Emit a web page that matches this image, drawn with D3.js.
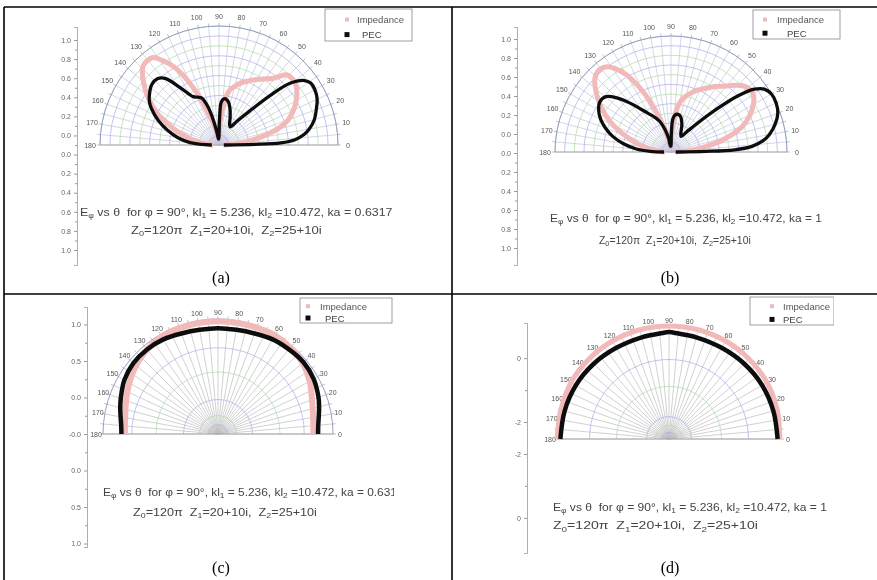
<!DOCTYPE html>
<html>
<head>
<meta charset="utf-8">
<script src="https://cdn.jsdelivr.net/npm/d3@7"></script>
<style>
  body { margin: 0; background: #fff; }
  svg { display: block; }
  text { white-space: pre; }
</style>
</head>
<body>
<svg id="fig" width="877" height="580"></svg>
<script>
// ---------------- data ----------------
const angularTicks = d3.range(0, 181, 10);
const legendLabels = ["Impedance", "PEC"];

// (a) ka = 0.6317
const pecAngA = [0, 1, 2, 4, 7, 10, 15, 20, 25, 30, 34, 37, 41, 44, 48, 53, 58, 62, 68, 74, 79, 84, 87, 89, 91, 95, 99, 103, 106, 110, 114, 118, 124, 129, 133, 138, 143, 148, 152, 158, 164, 170, 175, 178, 180];
const pecRA   = [0.04, 0.3, 0.52, 0.64, 0.72, 0.77, 0.83, 0.87, 0.91, 0.93, 0.93, 0.9, 0.79, 0.6, 0.38, 0.25, 0.18, 0.19, 0.25, 0.33, 0.38, 0.39, 0.36, 0.2, 0.06, 0.05, 0.1, 0.22, 0.33, 0.42, 0.44, 0.46, 0.58, 0.72, 0.76, 0.76, 0.73, 0.69, 0.64, 0.55, 0.45, 0.35, 0.25, 0.15, 0.06];
const impAngA = [0, 3, 6, 9, 12, 16, 20, 25, 30, 34, 38, 42, 46, 51, 56, 62, 67, 71, 75, 79, 82, 86, 90, 95, 100, 104, 108, 112, 116, 120, 124, 127, 131, 134, 137, 140, 145, 150, 153, 158, 162, 166, 170, 175, 180];
const impRA   = [0.04, 0.1, 0.2, 0.3, 0.4, 0.53, 0.62, 0.69, 0.75, 0.79, 0.82, 0.83, 0.82, 0.72, 0.67, 0.62, 0.58, 0.55, 0.51, 0.47, 0.4, 0.25, 0.1, 0.06, 0.1, 0.18, 0.25, 0.43, 0.61, 0.76, 0.86, 0.92, 0.93, 0.92, 0.88, 0.83, 0.74, 0.64, 0.58, 0.45, 0.37, 0.28, 0.2, 0.12, 0.05];

// (b) ka = 1
const pecAngB = [0, 1, 2, 4, 7, 10, 15, 20, 25, 30, 34, 37, 40, 43, 47, 52, 57, 62, 68, 74, 79, 84, 87, 89, 91, 95, 100, 105, 110, 115, 120, 125, 130, 135, 140, 145, 150, 155, 160, 165, 170, 175, 178, 180];
const pecRB   = [0.04, 0.3, 0.55, 0.7, 0.8, 0.86, 0.93, 0.98, 1.0, 1.0, 0.97, 0.9, 0.75, 0.55, 0.35, 0.22, 0.16, 0.18, 0.25, 0.31, 0.33, 0.32, 0.28, 0.15, 0.05, 0.05, 0.12, 0.2, 0.28, 0.33, 0.38, 0.45, 0.55, 0.66, 0.74, 0.75, 0.72, 0.67, 0.6, 0.52, 0.42, 0.3, 0.18, 0.06];
const impAngB = [0, 3, 6, 9, 12, 16, 20, 25, 30, 34, 38, 42, 46, 51, 56, 62, 67, 71, 75, 79, 82, 86, 90, 95, 100, 104, 108, 112, 116, 120, 124, 127, 131, 134, 137, 140, 145, 150, 153, 158, 162, 166, 170, 175, 180];
const impRB   = [0.04, 0.1, 0.2, 0.3, 0.42, 0.55, 0.66, 0.75, 0.82, 0.86, 0.87, 0.85, 0.8, 0.73, 0.68, 0.62, 0.58, 0.54, 0.5, 0.45, 0.38, 0.24, 0.1, 0.06, 0.1, 0.18, 0.28, 0.45, 0.62, 0.77, 0.87, 0.92, 0.94, 0.93, 0.9, 0.85, 0.76, 0.66, 0.6, 0.48, 0.38, 0.3, 0.21, 0.12, 0.05];

// (c) ka = 0.6317, half-space pattern
const pecAngC = [0, 5, 10, 15, 20, 30, 40, 50, 60, 70, 80, 90, 100, 110, 120, 130, 140, 150, 160, 165, 170, 175, 180];
const pecRC   = [0.87, 0.875, 0.89, 0.91, 0.93, 0.96, 0.97, 0.96, 0.95, 0.93, 0.92, 0.92, 0.92, 0.93, 0.95, 0.96, 0.96, 0.94, 0.9, 0.88, 0.86, 0.845, 0.84];
const impAngC = [0, 10, 20, 30, 40, 50, 60, 70, 80, 90, 100, 110, 120, 130, 140, 150, 160, 170, 180];
const impRC   = [0.83, 0.84, 0.87, 0.92, 0.96, 0.98, 0.99, 0.985, 0.98, 0.98, 0.98, 0.98, 0.98, 0.96, 0.93, 0.89, 0.85, 0.82, 0.81];

// (d) ka = 1, half-space pattern
const pecAngD = [0, 15, 30, 45, 60, 75, 85, 90, 95, 105, 120, 135, 150, 165, 180];
const pecRD   = [0.97, 0.965, 0.96, 0.95, 0.94, 0.94, 0.945, 0.955, 0.945, 0.94, 0.94, 0.95, 0.96, 0.965, 0.97];
const impAngD = [0, 15, 30, 45, 60, 75, 90, 105, 120, 135, 150, 165, 180];
const impRD   = [0.99, 1.0, 1.01, 1.01, 1.01, 1.01, 1.01, 1.01, 1.01, 1.01, 1.01, 1.0, 1.0];

// left-axis tick labels
const yLabelsAB = ["1.0", "0.8", "0.6", "0.4", "0.2", "0.0", "0.0", "0.2", "0.4", "0.6", "0.8", "1.0"];
const yLabelsC  = ["1.0", "0.5", "0.0", "-0.0", "0.0", "0.5", "1.0"];
const yLabelsD  = ["0", "-2", "-2", "0"];
const yValsD    = [2.5, 0.5, -0.5, -2.5];
const yMinorD   = [1.5, -1.5];

// radial grid rings
const ringsAB = d3.range(1, 13).map(i => i / 12);
const ringsC  = [0.08, 0.16, 0.3, 0.54, 0.75];
const ringsD  = [0.06, 0.12, 0.2, 0.47, 0.71];

// annotation pieces: [text, isSubscript]
const noteL1 = ka => [["E"], ["φ", 1], [" vs θ  for φ = 90°, kl"], ["1", 1], [" = 5.236, kl"], ["2", 1], [" =10.472, ka = " + ka]];
const noteL2 = [["Z"], ["0", 1], ["=120π  Z"], ["1", 1], ["=20+10i,  Z"], ["2", 1], ["=25+10i"]];

// ---------------- drawing ----------------
const svg = d3.select("#fig");
const defs = svg.append("defs");
defs.append("filter").attr("id", "soft").attr("x", "-5%").attr("y", "-5%").attr("width", "110%").attr("height", "110%")
  .append("feGaussianBlur").attr("stdDeviation", 0.75);

const zip = (a, b) => a.map((v, i) => [v, b[i]]);
const FONT = "Liberation Sans, Arial, sans-serif";

const panels = [
  { id: "a", cell: [4, 7, 452, 294], clipRight: 413, cx: 219, cy: 145, R: 119, labR: 10,
    rings: ringsAB, dense: true,
    pec: zip(pecAngA, pecRA), imp: zip(impAngA, impRA), pecW: 3.3, impW: 5,
    axis: { x: 77, top: 27, bottom: 265, labels: yLabelsAB, first: 40, last: 250 },
    legend: { x: 325, y: 9, w: 87, h: 32, mx: 22, tx1: 32, tx2: 37 },
    notes: [{ parts: noteL1("0.6317"), x: 80, y: 216, w: 313 }, { parts: noteL2, x: 131, y: 234, w: 191 }],
    caption: "(a)", capX: 221, capY: 283 },
  { id: "b", cell: [452, 7, 877, 294], clipRight: 841, cx: 671, cy: 152, R: 116, labR: 10,
    rings: ringsAB, dense: true,
    pec: zip(pecAngB, pecRB), imp: zip(impAngB, impRB), pecW: 3.3, impW: 5,
    axis: { x: 517, top: 27, bottom: 265, labels: yLabelsAB, first: 39, last: 248 },
    legend: { x: 753, y: 10, w: 87, h: 29, mx: 12, tx1: 24, tx2: 34 },
    notes: [{ parts: noteL1("1"), x: 550, y: 222, w: 272 }, { parts: noteL2, x: 599, y: 244, w: 152 }],
    caption: "(b)", capX: 670, capY: 283 },
  { id: "c", cell: [4, 294, 452, 580], clipRight: 394, cx: 218, cy: 434, R: 115, labR: 7,
    rings: ringsC, dense: false,
    pec: zip(pecAngC, pecRC), imp: zip(impAngC, impRC), pecW: 4.5, impW: 6,
    axis: { x: 87, top: 307, bottom: 547, labels: yLabelsC, first: 324.5, last: 543.5 },
    legend: { x: 300, y: 298, w: 92, h: 25, mx: 8, tx1: 20, tx2: 25 },
    notes: [{ parts: noteL1("0.6317"), x: 103, y: 496, w: 301 }, { parts: noteL2, x: 133, y: 516, w: 184 }],
    caption: "(c)", capX: 221, capY: 573 },
  { id: "d", cell: [452, 294, 877, 580], clipRight: 834, cx: 669, cy: 439, R: 112, labR: 7,
    rings: ringsD, dense: false,
    pec: zip(pecAngD, pecRD), imp: zip(impAngD, impRD), pecW: 4.5, impW: 5,
    axis: { x: 527, top: 323, bottom: 553, linear: true },
    legend: { x: 750, y: 297, w: 84, h: 28, mx: 22, tx1: 33, tx2: 33 },
    notes: [{ parts: noteL1("1"), x: 553, y: 511, w: 274 }, { parts: noteL2, x: 553, y: 529, w: 205 }],
    caption: "(d)", capX: 670, capY: 573 }
];

function drawPanel(p) {
  defs.append("clipPath").attr("id", "clip-" + p.id)
    .append("rect").attr("x", p.cell[0] + 1).attr("y", p.cell[1] + 1)
    .attr("width", p.clipRight - p.cell[0] - 1).attr("height", p.cell[3] - p.cell[1] - 1);

  const outer = svg.append("g").attr("clip-path", `url(#clip-${p.id})`);
  const g = outer.append("g").attr("filter", "url(#soft)");

  const r = d3.scaleLinear().domain([0, 1]).range([0, p.R]);
  const rad = d => d * Math.PI / 180;

  // polar grid
  const grid = g.append("g").attr("transform", `translate(${p.cx},${p.cy})`);
  const halfRing = v => { const pa = d3.path(); pa.moveTo(r(v), 0); pa.arc(0, 0, r(v), 0, -Math.PI, true); return pa.toString(); };
  const spokes = d3.range(0, 181, 5);
  grid.selectAll("line.spoke").data(spokes).join("line")
    .attr("x1", 0).attr("y1", 0)
    .attr("x2", d => r(1) * Math.cos(rad(d))).attr("y2", d => -r(1) * Math.sin(rad(d)))
    .attr("stroke", p.dense ? "#c4c4dc" : "#bdbdbd").attr("stroke-width", 0.7);
  grid.selectAll("path.ring").data(p.rings).join("path")
    .attr("d", halfRing).attr("fill", "none")
    .attr("stroke", (d, i) => i % 2 ? "#a9dba9" : "#a9ade6")
    .attr("stroke-width", 0.7);
  grid.append("path").attr("d", halfRing(1)).attr("fill", "none").attr("stroke", "#8f93c8").attr("stroke-width", 0.9);
  grid.append("line").attr("x1", -r(1)).attr("x2", r(1)).attr("y1", 0).attr("y2", 0)
    .attr("stroke", "#9a9a9a").attr("stroke-width", 0.8);
  grid.selectAll("line.tk").data(spokes).join("line")
    .attr("x1", d => r(1) * Math.cos(rad(d))).attr("y1", d => -r(1) * Math.sin(rad(d)))
    .attr("x2", d => (r(1) + 3) * Math.cos(rad(d))).attr("y2", d => -(r(1) + 3) * Math.sin(rad(d)))
    .attr("stroke", "#999").attr("stroke-width", 0.6);

  // angular labels
  grid.selectAll("text.ang").data(angularTicks).join("text")
    .attr("x", d => (r(1) + p.labR) * Math.cos(rad(d)))
    .attr("y", d => -(r(1) + p.labR) * Math.sin(rad(d)))
    .attr("text-anchor", "middle").attr("dominant-baseline", "central")
    .attr("font-family", FONT).attr("font-size", 7).attr("fill", "#555")
    .text(d => d);

  // series
  const line = d3.lineRadial()
    .angle(d => rad(90 - d[0]))
    .radius(d => r(d[1]))
    .curve(d3.curveCatmullRom.alpha(0.5));
  grid.append("path").datum(p.imp).attr("d", line).attr("fill", "none")
    .attr("stroke", "#f2b9b9").attr("stroke-width", p.impW).attr("stroke-linejoin", "round");
  grid.append("path").datum(p.pec).attr("d", line).attr("fill", "none")
    .attr("stroke", "#111").attr("stroke-width", p.pecW).attr("stroke-linejoin", "round");

  // left axis
  const ax = p.axis;
  let axisG;
  if (!ax.linear) {
    const n = ax.labels.length;
    const base = d3.scaleLinear().domain([0, n - 1]).range([ax.first, ax.last]);
    const y = d3.scaleLinear().domain([base.invert(ax.top), base.invert(ax.bottom)]).range([ax.top, ax.bottom]);
    axisG = g.append("g").attr("transform", `translate(${ax.x},0)`);
    axisG.call(d3.axisLeft(y).tickValues(d3.range(n)).tickFormat(i => ax.labels[i]).tickSize(3).tickPadding(3));
    g.append("g").attr("transform", `translate(${ax.x},0)`)
      .call(d3.axisLeft(y).tickValues(d3.range(n - 1).map(i => i + 0.5)).tickFormat("").tickSize(2))
      .call(s => s.select(".domain").remove())
      .call(s => s.selectAll("line").attr("stroke", "#999"));
  } else {
    const y = d3.scaleLinear().domain([3.6, -3.6]).range([ax.top, ax.bottom]);
    axisG = g.append("g").attr("transform", `translate(${ax.x},0)`);
    axisG.call(d3.axisLeft(y).tickValues(yValsD).tickFormat((d, i) => yLabelsD[i]).tickSize(3).tickPadding(3));
    g.append("g").attr("transform", `translate(${ax.x},0)`)
      .call(d3.axisLeft(y).tickValues(yMinorD).tickFormat("").tickSize(2))
      .call(s => s.select(".domain").remove())
      .call(s => s.selectAll("line").attr("stroke", "#999"));
  }
  axisG.select(".domain").attr("stroke", "#999").attr("stroke-width", 0.8);
  axisG.selectAll(".tick line").attr("stroke", "#999");
  axisG.selectAll(".tick text").attr("font-family", FONT).attr("font-size", 7).attr("fill", "#666");

  // legend
  const L = p.legend;
  const lg = g.append("g").attr("transform", `translate(${L.x},${L.y})`);
  lg.append("rect").attr("width", L.w).attr("height", L.h).attr("fill", "#fff")
    .attr("stroke", "#888").attr("stroke-width", 0.8);
  const rowY = [L.h * 0.33, L.h * 0.8];
  lg.append("rect").attr("x", L.mx - 2).attr("y", rowY[0] - 2).attr("width", 4).attr("height", 4).attr("fill", "#f2b9b9");
  lg.append("rect").attr("x", L.mx - 2.5).attr("y", rowY[1] - 2.5).attr("width", 5).attr("height", 5).attr("fill", "#111");
  lg.append("text").attr("x", L.tx1).attr("y", rowY[0]).attr("dominant-baseline", "central")
    .attr("font-family", FONT).attr("font-size", 9.5).attr("fill", "#555").text(legendLabels[0]);
  lg.append("text").attr("x", L.tx2).attr("y", rowY[1]).attr("dominant-baseline", "central")
    .attr("font-family", FONT).attr("font-size", 9.5).attr("fill", "#444").text(legendLabels[1]);

  // annotation lines: fixed glyph height, stretched horizontally to the printed width
  p.notes.forEach(nt => {
    const t = g.append("text").attr("x", 0).attr("y", 0)
      .attr("font-family", FONT).attr("font-size", 10.5).attr("fill", "#444");
    nt.parts.forEach(([s, sub]) => {
      const ts = t.append("tspan").text(s);
      if (sub) ts.attr("baseline-shift", "-30%").attr("font-size", "70%");
    });
    const w = t.node().getComputedTextLength();
    const sx = w > 0 ? nt.w / w : 1;
    t.attr("transform", `translate(${nt.x},${nt.y}) scale(${sx},1)`);
  });

  // caption
  svg.append("text").attr("x", p.capX).attr("y", p.capY).attr("text-anchor", "middle")
    .attr("font-family", "Liberation Serif, Times New Roman, serif").attr("font-size", 16).attr("fill", "#000")
    .text(p.caption);
}

panels.forEach(drawPanel);

// table frame
const frame = svg.append("g").attr("stroke", "#000").attr("stroke-width", 1.6);
frame.append("line").attr("x1", 4).attr("x2", 877).attr("y1", 7).attr("y2", 7);
frame.append("line").attr("x1", 4).attr("x2", 877).attr("y1", 294).attr("y2", 294);
frame.append("line").attr("x1", 4).attr("x2", 4).attr("y1", 7).attr("y2", 580);
frame.append("line").attr("x1", 452).attr("x2", 452).attr("y1", 7).attr("y2", 580);
</script>
</body>
</html>
